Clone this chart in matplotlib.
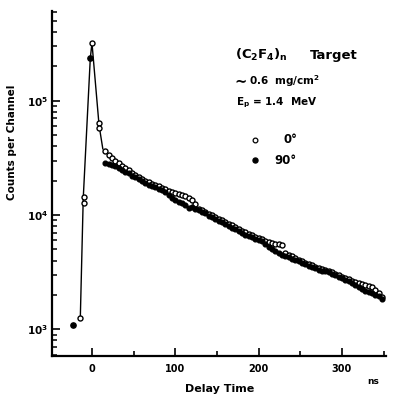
import matplotlib
matplotlib.use("Agg")
import matplotlib.pyplot as plt
import numpy as np

plt.rcParams['font.family'] = ['DejaVu Sans']
plt.rcParams['font.weight'] = 'bold'
plt.rcParams['mathtext.fontset'] = 'dejavusans'
plt.rcParams['mathtext.default'] = 'bf'

# ---- data ----
# prompt-peak region
peak_t_open = [-14, -10, -10, 0, 8, 9]
peak_c_open = [1270, 14500, 12700, 320000, 64000, 58000]
peak_t_full = [-23, -2]
peak_c_full = [1100, 237000]

# connecting curve through the prompt peak
curve_t = [-14, -10.5, -2, 0, 8.5, 13]
curve_c = [1270, 14000, 237000, 320000, 61000, 38000]

# delayed tail, channel times (ns)
tail_t = [16, 20, 24, 28, 32, 36, 40, 44, 48, 52, 56, 60, 64, 68, 72, 76, 80, 84,
          88, 92, 96, 100, 104, 108, 112, 116, 120, 124, 128, 132, 136, 140, 144,
          148, 152, 156, 160, 164, 168, 172, 176, 180, 184, 188, 192, 196, 200,
          204, 208, 212, 216, 220, 224, 228, 232, 236, 240, 244, 248, 252, 256,
          260, 264, 268, 272, 276, 280, 284, 288, 292, 296, 300, 304, 308, 312,
          316, 320, 324, 328, 332, 336, 340, 344, 348]

# log10(counts) for 90 deg (filled)
tail_log_90 = [4.457, 4.447, 4.44, 4.43, 4.413, 4.397, 4.38, 4.364, 4.346, 4.33,
               4.312, 4.295, 4.277, 4.265, 4.254, 4.242, 4.23, 4.218, 4.205, 4.175,
               4.148, 4.132, 4.118, 4.102, 4.085, 4.065, 4.068, 4.055, 4.043, 4.03,
               4.015, 3.995, 3.98, 3.965, 3.95, 3.94, 3.925, 3.905, 3.89, 3.875,
               3.86, 3.845, 3.83, 3.82, 3.805, 3.795, 3.785, 3.77, 3.75, 3.72,
               3.7, 3.685, 3.665, 3.652, 3.645, 3.635, 3.62, 3.605, 3.595, 3.58,
               3.568, 3.558, 3.545, 3.535, 3.522, 3.515, 3.508, 3.498, 3.485, 3.472,
               3.46, 3.448, 3.435, 3.422, 3.405, 3.39, 3.372, 3.352, 3.34, 3.33,
               3.318, 3.305, 3.29, 3.268]

# log10(counts) for 0 deg (open)
tail_log_0 = [4.56, 4.525, 4.5, 4.475, 4.452, 4.43, 4.41, 4.39, 4.372, 4.352,
              4.335, 4.318, 4.3, 4.287, 4.274, 4.262, 4.25, 4.238, 4.225, 4.212,
              4.2, 4.192, 4.188, 4.178, 4.165, 4.148, 4.128, 4.095, 4.055, 4.045,
              4.03, 4.013, 3.998, 3.984, 3.97, 3.957, 3.942, 3.925, 3.91, 3.895,
              3.878, 3.862, 3.848, 3.836, 3.822, 3.81, 3.8, 3.788, 3.772, 3.764,
              3.755, 3.75, 3.744, 3.736, 3.672, 3.655, 3.64, 3.624, 3.611, 3.597,
              3.584, 3.572, 3.56, 3.548, 3.538, 3.528, 3.52, 3.51, 3.498, 3.486,
              3.474, 3.462, 3.45, 3.438, 3.426, 3.415, 3.405, 3.396, 3.388, 3.38,
              3.368, 3.348, 3.32, 3.285]

xticks_major = [0, 100, 200, 300]
xticks_minor = [50, 150, 250, 350]
yticks_major = [1e3, 1e4, 1e5]
ytick_labels = [r'$\mathbf{10^{3}}$', r'$\mathbf{10^{4}}$', r'$\mathbf{10^{5}}$']

W, H = 402, 394
fig = plt.figure(figsize=(W / 100, H / 100), dpi=100)
x0, x1, ytop, ybot = 52, 386, 11, 356
ax = fig.add_axes([x0 / W, 1 - ybot / H, (x1 - x0) / W, (ybot - ytop) / H])

ax.set_yscale('log')
ax.set_xlim(-48, 353)
ax.set_ylim(585, 6.1e5)

ax.plot(curve_t, curve_c, '-', color='black', lw=1.0, zorder=2)
tail_c0 = 10 ** np.array(tail_log_0)
tail_c90 = 10 ** np.array(tail_log_90)
ax.plot(tail_t, tail_c0, 'o', ms=3.6, mfc='white', mec='black', mew=1.0, zorder=3)
ax.plot(tail_t, tail_c90, 'o', ms=3.4, color='black', mec='black', zorder=4)
ax.plot(peak_t_full, peak_c_full, 'o', ms=3.8, color='black', zorder=3)
ax.plot(peak_t_open, peak_c_open, 'o', ms=3.6, mfc='white', mec='black', mew=1.0, zorder=4)

for s in ['top', 'right']:
    ax.spines[s].set_visible(False)
for s in ['left', 'bottom']:
    ax.spines[s].set_linewidth(1.6)

ax.set_xticks(xticks_major)
ax.set_xticks(xticks_minor, minor=True)
ax.set_xticklabels(['0', '100', '200', '300'], fontsize=7, fontweight='bold')
ax.set_yticks(yticks_major)
ax.set_yticklabels(ytick_labels, fontsize=7.5)
ax.tick_params(axis='x', which='major', direction='in', length=5.5, width=1.2, pad=6)
ax.tick_params(axis='x', which='minor', direction='in', length=3.5, width=1.2)
ax.tick_params(axis='y', which='major', direction='in', length=6, width=1.2, pad=3)
ax.tick_params(axis='y', which='minor', direction='in', length=3.8, width=1.1)
ax.yaxis.set_minor_formatter(matplotlib.ticker.NullFormatter())

fig.text(373 / W, 1 - 381 / H, 'ns', fontsize=6.5, fontweight='bold', ha='center', va='center')
fig.text(220 / W, 1 - 384 / H, 'Delay Time', fontsize=8, fontweight='bold', ha='center', va='top')
fig.text(12.5 / W, 1 - 142 / H, 'Counts per Channel', fontsize=7.5, fontweight='bold',
         rotation=90, ha='center', va='center')

fig.text(235 / W, 1 - 59 / H, r'(C$_2$F$_4$)$_n$', fontsize=9.5, fontweight='bold', ha='left', va='baseline')
fig.text(310 / W, 1 - 59 / H, 'Target', fontsize=9.5, fontweight='bold', ha='left', va='baseline')
fig.text(234 / W, 1 - 81 / H, '\u223c', fontsize=10.5, fontweight='bold', ha='left', va='center')
fig.text(249 / W, 1 - 85 / H, '0.6  mg/cm$^2$', fontsize=7.5, fontweight='bold', ha='left', va='baseline')
fig.text(236 / W, 1 - 105 / H, 'E$_p$ = 1.4  MeV', fontsize=7.5, fontweight='bold', ha='left', va='baseline')

# legend
fig.lines.append(matplotlib.lines.Line2D([255 / W], [1 - 140 / H], marker='o', ms=3.4, mfc='white',
                                         mec='black', mew=0.9, transform=fig.transFigure, ls='none'))
fig.lines.append(matplotlib.lines.Line2D([255 / W], [1 - 160 / H], marker='o', ms=3.6, color='black',
                                         transform=fig.transFigure, ls='none'))
fig.text(297 / W, 1 - 140 / H, '0\u00b0', fontsize=8.5, fontweight='bold', ha='right', va='center')
fig.text(297 / W, 1 - 160 / H, '90\u00b0', fontsize=8.5, fontweight='bold', ha='right', va='center')

fig.savefig('out.png', dpi=100)
